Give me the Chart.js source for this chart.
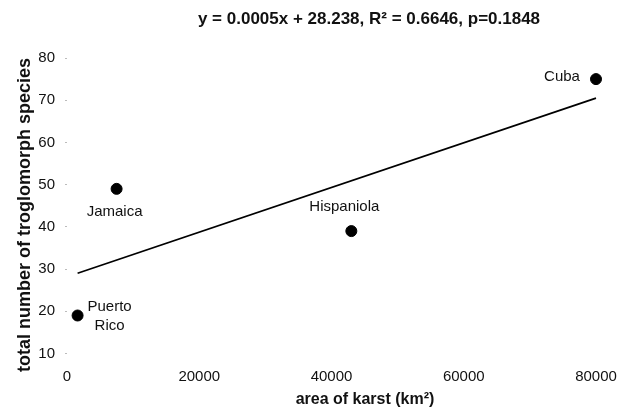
<!DOCTYPE html>
<html>
<head>
<meta charset="utf-8">
<script src="https://cdn.jsdelivr.net/npm/chart.js@4/dist/chart.umd.min.js"></script>
<style>
  html, body { margin: 0; padding: 0; background: #fff; }
  #wrap { width: 629px; height: 414px; position: relative; }
</style>
</head>
<body>
<div id="wrap"><canvas id="karstChart"></canvas></div>
<script>
// values
const islands = ['Puerto Rico', 'Jamaica', 'Hispaniola', 'Cuba'];
const karstArea = [1600, 7500, 43000, 80000];
const speciesCount = [19, 49, 39, 75];

// fitted line, ends at min / max of the data
const trendX = [1600, 80000];
const trendY = [29, 70.5];

const xTickValues = [0, 20000, 40000, 60000, 80000];
const yTickValues = [10, 20, 30, 40, 50, 60, 70, 80];

const titleText = 'y = 0.0005x + 28.238, R\u00b2 = 0.6646, p=0.1848';
const xTitle = 'area of karst (km\u00b2)';
const yTitle = 'total number of troglomorph species';

const FONT = 'Arial, "Liberation Sans", sans-serif';

// label placement relative to each dot (px)
const labelOffsets = [
  { dx: 32, dy: [-9, 10] },
  { dx: -2, dy: [23] },
  { dx: -7, dy: [-24] },
  { dx: -34, dy: [-2] }
];

const pointLabels = {
  id: 'pointLabels',
  afterDatasetsDraw(chart) {
    const ctx = chart.ctx;
    const meta = chart.getDatasetMeta(0);
    ctx.save();
    ctx.fillStyle = '#111';
    ctx.font = '15px ' + FONT;
    ctx.textAlign = 'center';
    ctx.textBaseline = 'middle';
    meta.data.forEach((pt, i) => {
      const off = labelOffsets[i];
      const lines = islands[i] === 'Puerto Rico' ? ['Puerto', 'Rico'] : [islands[i]];
      lines.forEach((txt, j) => {
        ctx.fillText(txt, pt.x + off.dx, pt.y + off.dy[j]);
      });
    });
    ctx.restore();
  }
};

// chart title and axis titles, placed where the original has them
const titles = {
  id: 'titles',
  afterDraw(chart) {
    const ctx = chart.ctx;
    ctx.save();
    ctx.fillStyle = '#111';
    ctx.textAlign = 'center';
    ctx.textBaseline = 'middle';
    ctx.font = 'bold 17px ' + FONT;
    ctx.fillText(titleText, 369, 19);
    ctx.font = 'bold 16px ' + FONT;
    ctx.fillText(xTitle, 365, 400);
    ctx.translate(25, 215);
    ctx.rotate(-Math.PI / 2);
    ctx.font = 'bold 18px ' + FONT;
    ctx.fillText(yTitle, 0, 0);
    ctx.restore();
  }
};

const ctx = document.getElementById('karstChart').getContext('2d');

new Chart(ctx, {
  type: 'scatter',
  data: {
    datasets: [
      {
        label: 'islands',
        data: karstArea.map((x, i) => ({ x: x, y: speciesCount[i] })),
        backgroundColor: '#000',
        borderColor: '#000',
        pointRadius: 5.5,
        pointHoverRadius: 5.5,
        clip: false
      },
      {
        label: 'trend',
        type: 'line',
        data: trendX.map((x, i) => ({ x: x, y: trendY[i] })),
        borderColor: '#000',
        borderWidth: 1.7,
        pointRadius: 0,
        fill: false,
        tension: 0,
        clip: false
      }
    ]
  },
  options: {
    responsive: true,
    maintainAspectRatio: false,
    animation: false,
    layout: {
      padding: { left: 0, right: 33, top: 58, bottom: 0 }
    },
    plugins: {
      legend: { display: false },
      title: { display: false },
      tooltip: { enabled: false }
    },
    scales: {
      x: {
        type: 'linear',
        min: 0,
        max: 80000,
        afterBuildTicks: (scale) => {
          scale.ticks = xTickValues.map(v => ({ value: v }));
        },
        afterFit: (scale) => { scale.height = 60.5; },
        grid: { display: false },
        border: { display: false },
        ticks: {
          color: '#111',
          font: { family: FONT, size: 15 },
          padding: 6,
          maxRotation: 0,
          callback: (v) => String(v)
        }
      },
      y: {
        type: 'linear',
        min: 10,
        max: 80,
        afterBuildTicks: (scale) => {
          scale.ticks = yTickValues.map(v => ({ value: v }));
        },
        afterFit: (scale) => { scale.width = 67; },
        grid: {
          drawOnChartArea: false,
          drawTicks: true,
          tickLength: 2,
          color: '#bbb',
          lineWidth: 1
        },
        border: { display: false },
        ticks: {
          color: '#111',
          font: { family: FONT, size: 15 },
          padding: 10
        }
      }
    }
  },
  plugins: [pointLabels, titles]
});
</script>
</body>
</html>
